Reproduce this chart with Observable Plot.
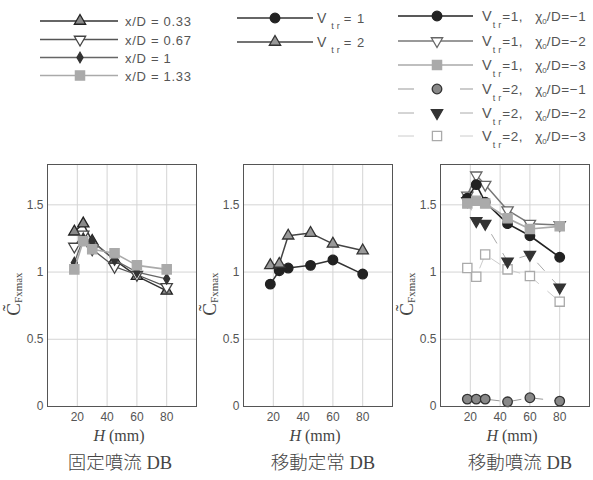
<!DOCTYPE html>
<html><head><meta charset="utf-8">
<script src="https://cdn.jsdelivr.net/npm/d3@7"></script>
<script src="https://cdn.jsdelivr.net/npm/@observablehq/plot@0.6"></script>
<style>
body{margin:0;background:#fff;}
#wrap{position:relative;width:593px;height:480px;overflow:hidden;background:#fff;}
#wrap > svg{position:absolute;}
</style></head><body><div id="wrap"></div>
<script>
// ---------- data ----------
const H = [18, 24, 30, 45, 60, 80];
const xTicks = [20, 40, 60, 80];
const yTicks = [0, 0.5, 1, 1.5];
// panel 1 : 固定噴流 DB
const xD033 = [1.30, 1.36, 1.23, 1.09, 0.97, 0.86];
const xD067 = [1.19, 1.28, 1.17, 1.04, 0.98, 0.89];
const xD100 = [1.07, 1.25, 1.23, 1.09, 1.00, 0.95];
const xD133 = [1.02, 1.23, 1.17, 1.14, 1.05, 1.02];
// panel 2 : 移動定常 DB
const vtr1 = [0.91, 1.01, 1.03, 1.05, 1.09, 0.985];
const vtr2 = [1.05, 1.06, 1.27, 1.29, 1.21, 1.16];
// panel 3 : 移動噴流 DB
const v1x1 = [1.55, 1.65, 1.52, 1.36, 1.27, 1.11];
const v1x2 = [1.57, 1.72, 1.65, 1.46, 1.36, 1.35];
const v1x3 = [1.51, 1.53, 1.51, 1.40, 1.32, 1.34];
const v2x1 = [0.055, 0.055, 0.055, 0.035, 0.065, 0.04];
const v2x2 = [1.53, 1.38, 1.36, 1.08, 1.13, 0.885];
const v2x3 = [1.03, 0.965, 1.13, 1.02, 0.97, 0.78];
const titles = ["固定噴流 DB", "移動定常 DB", "移動噴流 DB"];

// ---------- symbols ----------
const sqrt3 = Math.sqrt(3);
const triDown = {draw(ctx, size){ const y = Math.sqrt(size/(sqrt3*3)); ctx.moveTo(0, 2*y); ctx.lineTo(-sqrt3*y, -y); ctx.lineTo(sqrt3*y, -y); ctx.closePath(); }};
const TRI = d3.symbolTriangle, CIR = d3.symbolCircle, SQ = d3.symbolSquare, DIA = d3.symbolDiamond;

// ---------- series styles ----------
const panel1 = [
  {values: xD033, label: "x/D = 0.33", line: "#333", lw: 1.5, sym: TRI, r: 4.2, fill: "#8a8a8a", stroke: "#222"},
  {values: xD067, label: "x/D = 0.67", line: "#555", lw: 1.3, sym: triDown, r: 4.2, fill: "#fff", stroke: "#444"},
  {values: xD100, label: "x/D = 1", line: "#666", lw: 1.3, sym: DIA, r: 3.2, fill: "#333", stroke: "#333"},
  {values: xD133, label: "x/D = 1.33", line: "#aaa", lw: 1.6, sym: SQ, r: 5.2, fill: "#aaa", stroke: "#aaa"}
];
const panel2 = [
  {values: vtr1, sub: "= 1", line: "#333", lw: 1.5, sym: CIR, r: 4.8, fill: "#222", stroke: "#222"},
  {values: vtr2, sub: "= 2", line: "#444", lw: 1.5, sym: TRI, r: 4.2, fill: "#999", stroke: "#333"}
];
const s_v1x1 = {values: v1x1, v: "=1,", x: "=−1", line: "#222", lw: 1.6, sym: CIR, r: 4.8, fill: "#222", stroke: "#222"};
const s_v1x2 = {values: v1x2, v: "=1,", x: "=−2", line: "#777", lw: 1.5, sym: triDown, r: 4.2, fill: "#fff", stroke: "#666"};
const s_v1x3 = {values: v1x3, v: "=1,", x: "=−3", line: "#aaa", lw: 1.6, sym: SQ, r: 5.2, fill: "#aaa", stroke: "#aaa"};
const s_v2x1 = {values: v2x1, v: "=2,", x: "=−1", line: "#999", lw: 1, dash: "10,12", sym: CIR, r: 4.8, fill: "#888", stroke: "#333"};
const s_v2x2 = {values: v2x2, v: "=2,", x: "=−2", line: "#aaa", lw: 1, dash: "10,12", sym: triDown, r: 4.2, fill: "#333", stroke: "#333"};
const s_v2x3 = {values: v2x3, v: "=2,", x: "=−3", line: "#ccc", lw: 1, dash: "10,12", sym: SQ, r: 5.2, fill: "#fff", stroke: "#aaa"};
// drawing order (bottom to top) and legend order
const panel3 = [s_v2x3, s_v2x2, s_v2x1, s_v1x2, s_v1x1, s_v1x3];
const legend3 = [s_v1x1, s_v1x2, s_v1x3, s_v2x1, s_v2x2, s_v2x3];

const wrap = document.getElementById("wrap");

// ---------- panels ----------
function panel(series, left, title, titleX) {
  const marks = [
    Plot.gridX({ticks: xTicks, stroke: "#d4d4d4", strokeOpacity: 1}),
    Plot.gridY({ticks: [0.5, 1, 1.5], stroke: "#d4d4d4", strokeOpacity: 1}),
    Plot.axisX({ticks: xTicks, tickSize: 0, tickPadding: 6, label: null, fontSize: 12, fill: "#555"}),
    Plot.axisY({ticks: yTicks, tickSize: 0, tickPadding: 4, label: null, tickFormat: d => String(d), fontSize: 12, fill: "#555"})
  ];
  for (const s of series) {
    const d = H.map((h, i) => ({h, v: s.values[i]}));
    marks.push(Plot.line(d, {x: "h", y: "v", stroke: s.line, strokeWidth: s.lw, strokeDasharray: s.dash}));
    marks.push(Plot.dot(d, {x: "h", y: "v", symbol: s.sym, r: s.r, fill: s.fill, stroke: s.stroke, strokeWidth: 1.3}));
  }
  marks.push(Plot.frame({stroke: "#555"}));
  const svg = Plot.plot({
    width: 197, height: 330, marginTop: 14, marginBottom: 74, marginLeft: 47, marginRight: 1,
    x: {domain: [0, 100]}, y: {domain: [0, 1.8]},
    style: {fontFamily: "'Liberation Sans', Arial, sans-serif", fontSize: "12px", color: "#555", background: "transparent", overflow: "visible"},
    marks
  });
  svg.style.left = left + "px";
  svg.style.top = "150px";
  const s = d3.select(svg);
  // y label
  const yl = s.append("text").attr("transform", "translate(20,144) rotate(-90)").attr("text-anchor", "middle")
    .attr("fill", "#444").style("font-family", "'Liberation Serif', serif");
  yl.append("tspan").attr("font-size", 19).text("C\u0303");
  yl.append("tspan").attr("font-size", 11).attr("dy", 2).text("Fxmax");
  // x label
  const xl = s.append("text").attr("x", 119).attr("y", 291).attr("text-anchor", "middle")
    .attr("fill", "#444").style("font-family", "'Liberation Serif', serif").attr("font-size", 16);
  xl.append("tspan").attr("font-style", "italic").text("H");
  xl.append("tspan").text(" (mm)");
  // title
  const t = s.append("text").attr("x", titleX).attr("y", 319).attr("text-anchor", "middle")
    .attr("fill", "#444").attr("font-size", 18.5);
  const parts = title.split(" ");
  t.append("tspan").style("font-family", "'Noto Sans CJK JP', sans-serif").attr("font-weight", 300).text(parts[0]);
  t.append("tspan").style("font-family", "'Liberation Serif', serif").text(" " + parts[1]);
  wrap.appendChild(svg);
}
panel(panel1, 0, titles[0], 120);
panel(panel2, 196, titles[1], 127);
panel(panel3, 393, titles[2], 127);

// ---------- legends ----------
const lg = d3.select(wrap).append("svg").attr("width", 593).attr("height", 150)
  .style("left", "0px").style("top", "0px")
  .style("font-family", "'Liberation Sans', Arial, sans-serif");

function legendRow(s, x0, x1, xm, y) {
  const segs = s.dash ? [[x0, x0 + 16], [x1 - 13, x1]] : [[x0, x1]];
  for (const [a, b] of segs)
    lg.append("line").attr("x1", a).attr("x2", b).attr("y1", y).attr("y2", y)
      .attr("stroke", s.line).attr("stroke-width", s.lw);
  lg.append("path").attr("transform", `translate(${xm},${y})`)
    .attr("d", d3.symbol(s.sym, s.r * s.r * Math.PI)())
    .attr("fill", s.fill).attr("stroke", s.stroke).attr("stroke-width", 1.3);
}
// legend 1
const ly1 = [21, 39.5, 57.5, 75.5];
panel1.forEach((s, i) => {
  legendRow(s, 40, 118, 80, ly1[i]);
  lg.append("text").attr("x", 125).attr("y", ly1[i] + 5).attr("font-size", 13).attr("letter-spacing", 0.7)
    .attr("fill", "#555").text(s.label);
});
// legend 2
const ly2 = [18, 42];
panel2.forEach((s, i) => {
  legendRow(s, 237, 313, 275, ly2[i]);
  const t = lg.append("text").attr("x", 317).attr("y", ly2[i] + 5).attr("font-size", 13).attr("fill", "#555");
  t.append("tspan").attr("font-size", 14).text("V");
  t.append("tspan").attr("font-size", 9).attr("dy", 6).attr("dx", 5).attr("letter-spacing", 3).text("tr");
  t.append("tspan").attr("dy", -6).attr("dx", 1).attr("letter-spacing", 1).text(s.sub);
});
// legend 3
const ly3 = [16, 41, 65, 89, 113, 136];
legend3.forEach((s, i) => {
  legendRow(s, 398, 473, 437, ly3[i]);
  const t = lg.append("text").attr("x", 482).attr("y", ly3[i] + 4.5).attr("font-size", 13.5).attr("fill", "#555");
  t.append("tspan").attr("font-size", 14.5).text("V");
  t.append("tspan").attr("font-size", 9).attr("dy", 7).attr("dx", 1).attr("letter-spacing", 3).text("tr");
  t.append("tspan").attr("dy", -7).attr("dx", -2).attr("letter-spacing", 0.6).text(s.v);
  t.append("tspan").attr("dx", 12).text("χ");
  t.append("tspan").attr("font-size", 8).attr("dy", 3).text("0");
  t.append("tspan").attr("dy", -3).attr("letter-spacing", 0.6).text("/D" + s.x);
});
</script></body></html>
